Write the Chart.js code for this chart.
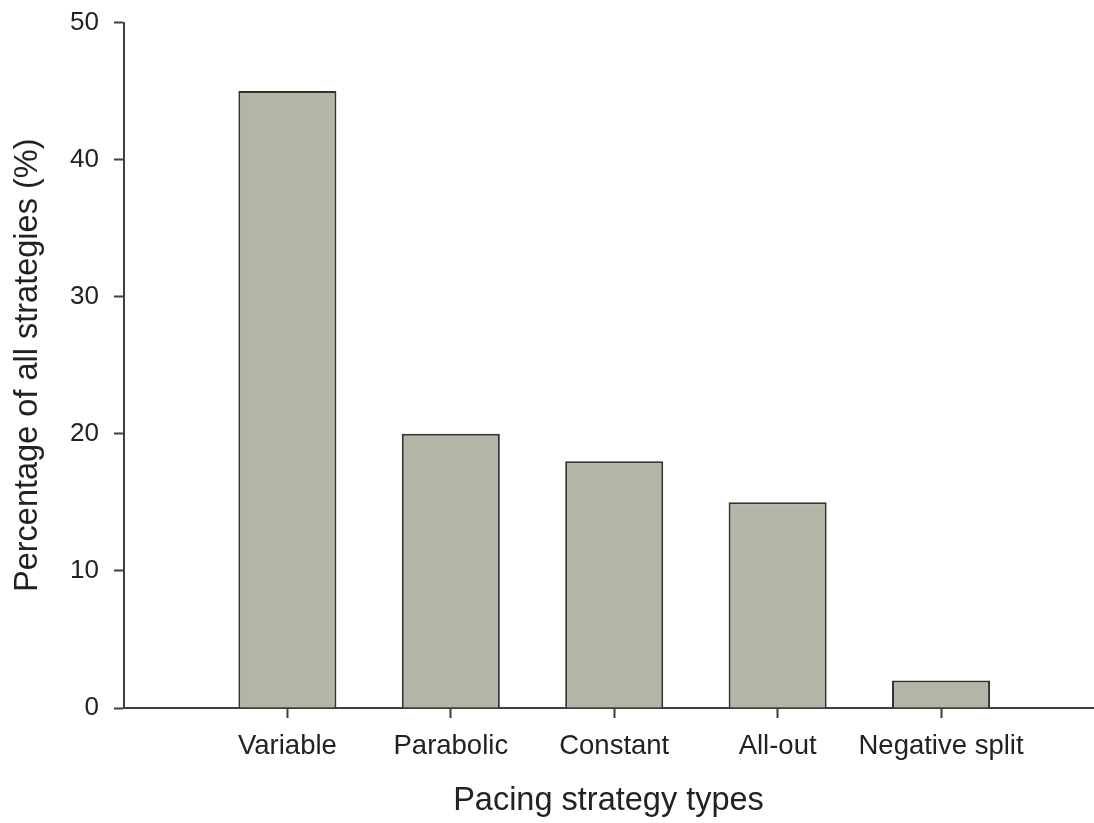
<!DOCTYPE html>
<html>
<head>
<meta charset="utf-8">
<script src="https://cdn.jsdelivr.net/npm/chart.js@4/dist/chart.umd.min.js"></script>
<style>
    html, body { margin: 0; padding: 0; background: #fff; }
    #chartBox { width: 1094px; height: 823px; }
</style>
</head>
<body>
<div id="chartBox"><canvas id="pacingChart"></canvas></div>
<script>
// Chart data
const categories = ['Variable', 'Parabolic', 'Constant', 'All-out', 'Negative split'];
const positions = [1, 2, 3, 4, 5];
const percentages = [45, 20, 18, 15, 2];
const yTicks = [0, 10, 20, 30, 40, 50];

const axisColor = '#3f3f3f';
const textColor = '#222';

/* Builds the pacing strategy bar chart
*/
const buildPacingChart = () => {

    const data = {
        datasets: [{
            label: 'Percentage',
            data: positions.map((x, i) => ({ x: x, y: percentages[i] })),
            backgroundColor: '#b4b5a7',
            borderColor: '#333',
            borderWidth: 2,
            borderSkipped: 'bottom',
            barPercentage: 0.6,
            categoryPercentage: 1
        }]
    };

    const config = {
        type: 'bar',
        data: data,
        options: {
            responsive: true,
            maintainAspectRatio: false,
            animation: false,
            layout: { padding: { top: 22.5, right: 1, left: 0, bottom: 0 } },
            plugins: {
                legend: { display: false },
                tooltip: { enabled: false }
            },
            scales: {
                x: {
                    type: 'linear',
                    min: 0,
                    max: 5.93,
                    offset: false,
                    afterBuildTicks: (scale) => {
                        scale.ticks = positions.map(v => ({ value: v }));
                    },
                    afterFit: (scale) => { scale.height = 115; },
                    ticks: {
                        callback: (value) => categories[positions.indexOf(value)] || '',
                        font: { family: 'Liberation Sans', size: 27.5 },
                        color: textColor,
                        padding: 12,
                        maxRotation: 0,
                        autoSkip: false
                    },
                    grid: {
                        offset: false,
                        drawOnChartArea: false,
                        drawTicks: true,
                        tickLength: 10,
                        tickWidth: 2,
                        color: axisColor
                    },
                    border: { display: true, color: axisColor, width: 2 },
                    title: {
                        display: true,
                        text: 'Pacing strategy types',
                        font: { family: 'Liberation Sans', size: 32.5 },
                        color: textColor,
                        padding: { top: 0, bottom: 2 }
                    }
                },
                y: {
                    min: 0,
                    max: 50,
                    afterBuildTicks: (scale) => {
                        scale.ticks = yTicks.map(v => ({ value: v }));
                    },
                    afterFit: (scale) => {
                        scale.width = 124;
                        scale.paddingTop = 0;
                    },
                    ticks: {
                        font: { family: 'Liberation Sans', size: 26 },
                        color: textColor,
                        padding: 15
                    },
                    grid: {
                        drawOnChartArea: false,
                        drawTicks: true,
                        tickLength: 10,
                        tickWidth: 2,
                        color: axisColor
                    },
                    border: { display: true, color: axisColor, width: 2 },
                    title: {
                        display: true,
                        text: 'Percentage of all strategies (%)',
                        font: { family: 'Liberation Sans', size: 32.5 },
                        color: textColor,
                        padding: { top: 9, bottom: 0 }
                    }
                }
            }
        }
    };

    const ctx = document.getElementById('pacingChart').getContext('2d');
    new Chart(ctx, config);
}

document.addEventListener("DOMContentLoaded", () => {
    buildPacingChart();
});
</script>
</body>
</html>
